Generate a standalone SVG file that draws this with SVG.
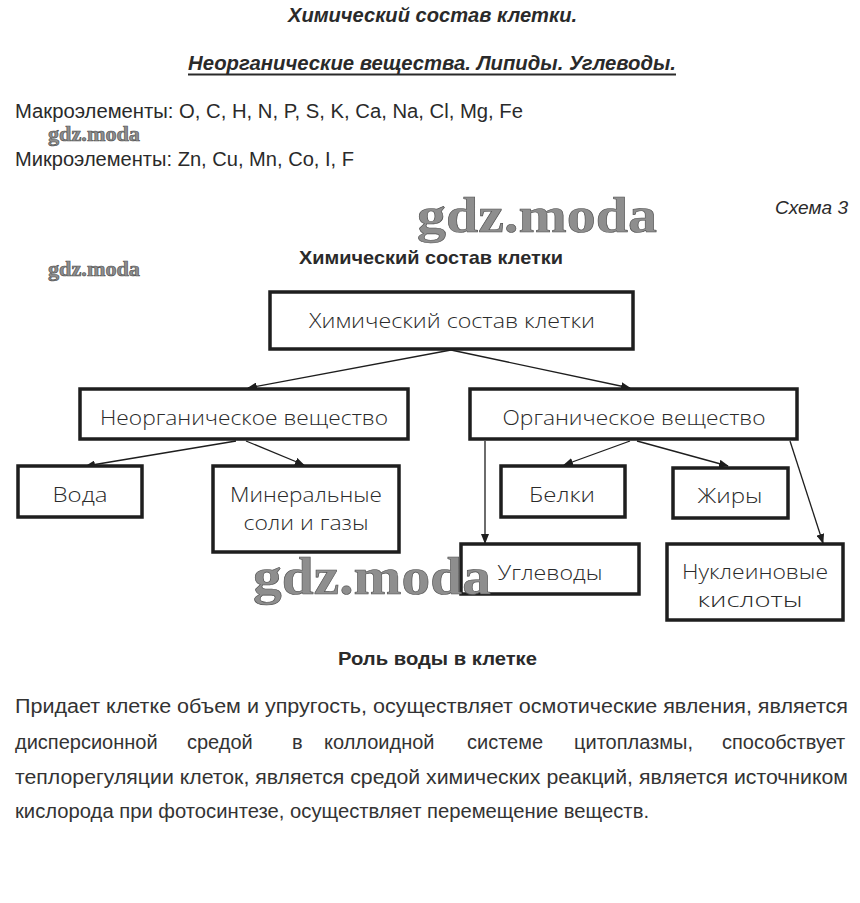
<svg xmlns="http://www.w3.org/2000/svg" width="860" height="903" viewBox="0 0 860 903">
<style>
.t{font-family:"Liberation Sans",Arial,sans-serif;fill:#2a2a2a}
.bi{font-weight:bold;font-style:italic;font-size:20px}
.b{font-weight:bold;font-size:19px}
.r{font-size:20px}
.p{font-size:20px;fill:#333}
.bx{fill:#fff;stroke:#1e1e1e;stroke-width:3.5}
.bt{font-family:"Open Sans","Liberation Sans",sans-serif;font-weight:300;font-size:21px;fill:#2a2a2a;text-anchor:middle}
.c{stroke:#1e1e1e;stroke-width:1.3;fill:none}
.wm{font-family:"Liberation Serif",serif;font-weight:bold;fill:#8e8e8e;stroke:#505050;stroke-width:0.6}
</style>
<defs>
<marker id="ah" viewBox="0 0 10 8" refX="9" refY="4" markerWidth="10" markerHeight="8" markerUnits="userSpaceOnUse" orient="auto">
<path d="M0,0 L10,4 L0,8 z" fill="#1e1e1e"/>
</marker>
</defs>
<rect width="860" height="903" fill="#fff"/>
<text class="t bi" x="288" y="22" textLength="289" lengthAdjust="spacingAndGlyphs">Химический состав клетки.</text>
<text class="t bi" x="188" y="70" textLength="488" lengthAdjust="spacingAndGlyphs">Неорганические вещества. Липиды. Углеводы.</text>
<line x1="188" y1="74.5" x2="676" y2="74.5" stroke="#2a2a2a" stroke-width="2"/>
<text class="t r" x="15" y="118" textLength="508" lengthAdjust="spacingAndGlyphs">Макроэлементы: O, C, H, N, P, S, K, Ca, Na, Cl, Mg, Fe</text>
<text class="t r" x="15" y="166" textLength="339" lengthAdjust="spacingAndGlyphs">Микроэлементы: Zn, Cu, Mn, Co, I, F</text>
<text class="wm" x="48" y="141" font-size="20" textLength="92" lengthAdjust="spacingAndGlyphs">gdz.moda</text>
<text class="wm" x="48" y="276" font-size="20" textLength="92" lengthAdjust="spacingAndGlyphs">gdz.moda</text>
<text class="wm" x="417" y="232" font-size="50" textLength="240" lengthAdjust="spacingAndGlyphs">gdz.moda</text>
<text class="t" x="775" y="214" font-size="19" font-style="italic" textLength="73" lengthAdjust="spacingAndGlyphs">Схема 3</text>
<text class="t b" x="299" y="264" textLength="264" lengthAdjust="spacingAndGlyphs">Химический состав клетки</text>

<g id="connectors">
<line class="c" x1="451" y1="350" x2="248" y2="388" marker-end="url(#ah)"/>
<line class="c" x1="451" y1="350" x2="630" y2="388" marker-end="url(#ah)"/>
<line class="c" x1="236" y1="441" x2="86" y2="466" marker-end="url(#ah)"/>
<line class="c" x1="246" y1="441" x2="304" y2="465" marker-end="url(#ah)"/>
<line class="c" x1="630" y1="441" x2="564" y2="465" marker-end="url(#ah)"/>
<line class="c" x1="637" y1="441" x2="728" y2="466" marker-end="url(#ah)"/>
<line class="c" x1="485" y1="441" x2="485" y2="543" marker-end="url(#ah)"/>
<line class="c" x1="790" y1="441" x2="823" y2="543" marker-end="url(#ah)"/>
</g>

<g id="n-root"><rect class="bx" x="270" y="292" width="363" height="57"/><text class="bt" x="452" y="328" textLength="286" lengthAdjust="spacingAndGlyphs">Химический состав клетки</text></g>
<g id="n-inorg"><rect class="bx" x="80" y="389" width="328" height="50"/><text class="bt" x="244" y="425" textLength="288" lengthAdjust="spacingAndGlyphs">Неорганическое вещество</text></g>
<g id="n-org"><rect class="bx" x="470" y="389" width="327" height="50"/><text class="bt" x="634" y="425" textLength="263" lengthAdjust="spacingAndGlyphs">Органическое вещество</text></g>
<g id="n-water"><rect class="bx" x="18" y="466" width="124" height="51"/><text class="bt" x="80" y="502" textLength="55" lengthAdjust="spacingAndGlyphs">Вода</text></g>
<g id="n-mineral"><rect class="bx" x="213" y="466" width="186" height="86"/><text class="bt" x="306" y="502" textLength="152" lengthAdjust="spacingAndGlyphs">Минеральные</text><text class="bt" x="306" y="530" textLength="125" lengthAdjust="spacingAndGlyphs">соли и газы</text></g>
<g id="n-protein"><rect class="bx" x="501" y="466" width="124" height="51"/><text class="bt" x="562" y="502" textLength="66" lengthAdjust="spacingAndGlyphs">Белки</text></g>
<g id="n-fat"><rect class="bx" x="673" y="468" width="115" height="50"/><text class="bt" x="730" y="503" textLength="65" lengthAdjust="spacingAndGlyphs">Жиры</text></g>
<g id="n-carb"><rect class="bx" x="461" y="544" width="178" height="50"/><text class="bt" x="550" y="580" textLength="105" lengthAdjust="spacingAndGlyphs">Углеводы</text></g>
<g id="n-nucl"><rect class="bx" x="667" y="544" width="176" height="76"/><text class="bt" x="755" y="579" textLength="146" lengthAdjust="spacingAndGlyphs">Нуклеиновые</text><text class="bt" x="750" y="607" textLength="105" lengthAdjust="spacingAndGlyphs">кислоты</text></g>

<text class="wm" x="253" y="594" font-size="52" textLength="238" lengthAdjust="spacingAndGlyphs">gdz.moda</text>

<text class="t b" x="338" y="665" textLength="199" lengthAdjust="spacingAndGlyphs">Роль воды в клетке</text>
<text class="t p" x="15" y="713" textLength="833" lengthAdjust="spacingAndGlyphs">Придает клетке объем и упругость, осуществляет осмотические явления, является</text>
<text class="t p" y="749"><tspan x="15">дисперсионной</tspan> <tspan x="187">средой</tspan> <tspan x="292">в</tspan> <tspan x="324">коллоидной</tspan> <tspan x="467">системе</tspan> <tspan x="574">цитоплазмы,</tspan> <tspan x="722">способствует</tspan></text>
<text class="t p" x="15" y="784" textLength="833" lengthAdjust="spacingAndGlyphs">теплорегуляции клеток, является средой химических реакций, является источником</text>
<text class="t p" x="15" y="818" textLength="634" lengthAdjust="spacingAndGlyphs">кислорода при фотосинтезе, осуществляет перемещение веществ.</text>
</svg>
